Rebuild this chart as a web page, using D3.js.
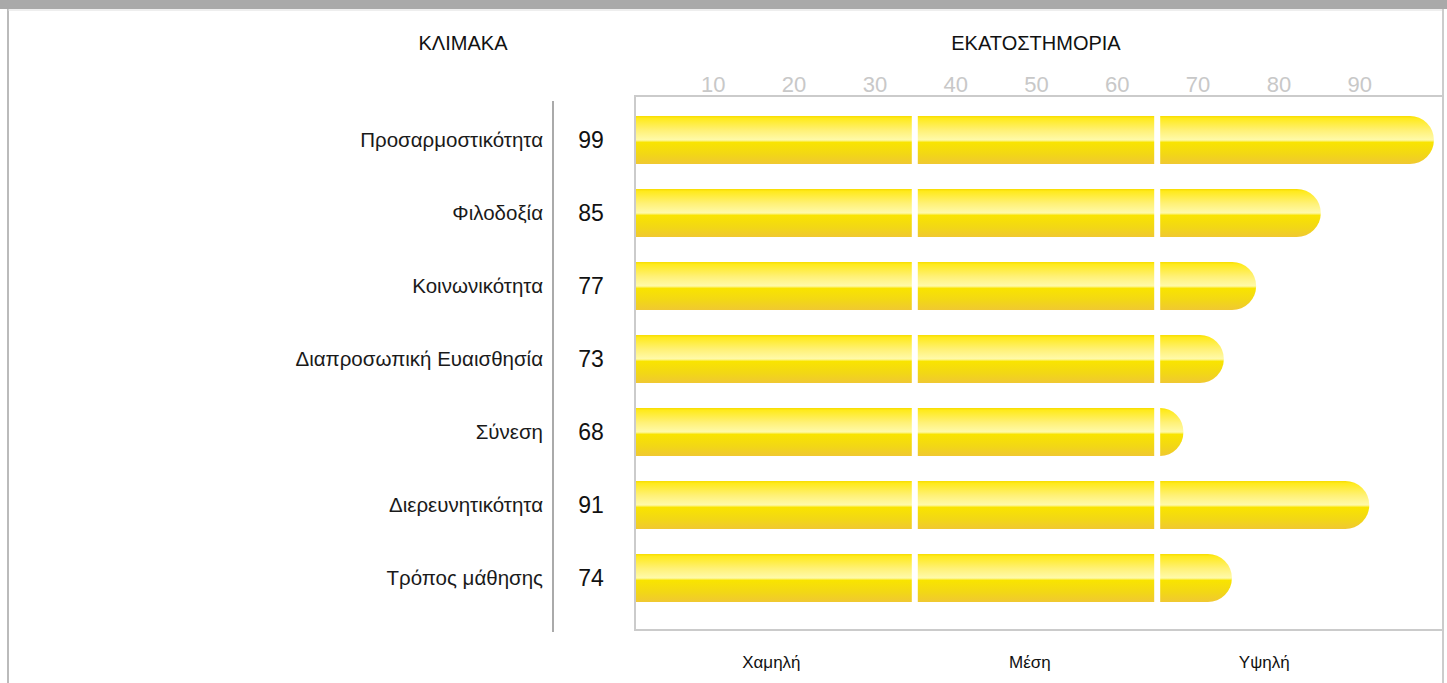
<!DOCTYPE html>
<html>
<head>
<meta charset="utf-8">
<style>
  body { margin: 0; background: #fff; }
  svg { display: block; font-family: "Liberation Sans", Arial, sans-serif; }
</style>
</head>
<body>
<svg id="chart" width="1447" height="683"></svg>
<script src="https://cdn.jsdelivr.net/npm/d3@7/dist/d3.min.js"></script>
<script>
// data
const scales = ["Προσαρμοστικότητα", "Φιλοδοξία", "Κοινωνικότητα", "Διαπροσωπική Ευαισθησία",
                "Σύνεση", "Διερευνητικότητα", "Τρόπος μάθησης"]
const percentiles = [99, 85, 77, 73, 68, 91, 74]
const tickValues = [10, 20, 30, 40, 50, 60, 70, 80, 90]
const zoneBreaks = [35, 65]
const zoneNames = ["Χαμηλή", "Μέση", "Υψηλή"]
const zoneLabelAt = [17, 49, 78]

const svg = d3.select("#chart")
const W = 1447, H = 683

// frame
svg.append("rect").attr("x", 0).attr("y", 0).attr("width", W).attr("height", 9).attr("fill", "#a9a9a9")
svg.append("line").attr("x1", 8).attr("x2", 8).attr("y1", 9).attr("y2", H)
    .attr("stroke", "#bbb").attr("stroke-width", 2)
svg.append("line").attr("x1", 8).attr("x2", W - 3).attr("y1", 10).attr("y2", 10)
    .attr("stroke", "#ddd").attr("stroke-width", 1)
svg.append("line").attr("x1", 1443).attr("x2", 1443).attr("y1", 9).attr("y2", H)
    .attr("stroke", "#ccc").attr("stroke-width", 2)

let x = d3.scaleLinear().domain([0, 100]).range([634, 1442])
let y = d3.scaleBand().domain(scales).range([103.5, 614.5]).paddingInner(0.342).paddingOuter(0.171)

// headers
svg.append("text").attr("x", 463).attr("y", 50).attr("text-anchor", "middle")
    .attr("font-size", 20).attr("fill", "#111").text("ΚΛΙΜΑΚΑ")
svg.append("text").attr("x", 1036).attr("y", 50).attr("text-anchor", "middle")
    .attr("font-size", 20).attr("fill", "#111").text("ΕΚΑΤΟΣΤΗΜΟΡΙΑ")

// percentile ticks on top
svg.append("g")
    .attr("transform", "translate(-2,92)")
    .call(d3.axisTop(x).tickValues(tickValues).tickSize(0).tickPadding(0))
    .call(g => g.select(".domain").remove())
    .call(g => g.selectAll("text").attr("font-size", 22).attr("fill", "#c8c8c8")
        .attr("font-family", "\"Liberation Sans\", Arial, sans-serif"))

// plot box
svg.append("rect").attr("x", 635).attr("y", 96).attr("width", 1443 - 635).attr("height", 630 - 96)
    .attr("fill", "none").attr("stroke", "#cbcbcb").attr("stroke-width", 2)

// separator on left
svg.append("line").attr("x1", 553).attr("x2", 553).attr("y1", 101).attr("y2", 632)
    .attr("stroke", "#aaa").attr("stroke-width", 2)

// gradient for bars
const defs = svg.append("defs")
const grad = defs.append("linearGradient").attr("id", "barGrad")
    .attr("x1", 0).attr("y1", 0).attr("x2", 0).attr("y2", 1)
const stops = [[0, "#f7dc00"], [0.05, "#ffea1c"], [0.3, "#fff176"], [0.5, "#fffaaa"],
               [0.55, "#f9e400"], [0.8, "#f2d716"], [1, "#f0c832"]]
stops.forEach(s => grad.append("stop").attr("offset", s[0]).attr("stop-color", s[1]))

// category names and values
svg.append("g").selectAll("text").data(scales).join("text")
    .attr("x", 543).attr("y", d => y(d) + y.bandwidth() / 2)
    .attr("dy", "0.35em").attr("text-anchor", "end")
    .attr("font-size", 20.5).attr("fill", "#1a1a1a").text(d => d)

svg.append("g").selectAll("text").data(percentiles).join("text")
    .attr("x", 591).attr("y", (d, i) => y(scales[i]) + y.bandwidth() / 2)
    .attr("dy", "0.36em").attr("text-anchor", "middle")
    .attr("font-size", 23).attr("fill", "#111").text(d => d)

// bars split in zones
function segPath(x0, x1, top, h, round) {
    let w = x1 - x0
    if (!round) return `M${x0},${top}h${w}v${h}h${-w}Z`
    let r = Math.min(h / 2, w)
    return `M${x0},${top}H${x1 - r}A${r},${h / 2} 0 0 1 ${x1 - r},${top + h}H${x0}Z`
}

const bars = svg.append("g")
percentiles.forEach((v, i) => {
    let top = y(scales[i]), h = y.bandwidth()
    let edges = [0, ...zoneBreaks.filter(b => b < v), v]
    for (let k = 0; k < edges.length - 1; k++) {
        let last = k === edges.length - 2
        let x0 = x(edges[k]) + (k > 0 ? 1 : 2)
        let x1 = last ? x(edges[k + 1]) : x(edges[k + 1]) - 5
        bars.append("path")
            .attr("d", segPath(x0, x1, top, h, last))
            .attr("fill", "url(#barGrad)")
    }
})

// zone labels
svg.append("g").selectAll("text").data(zoneNames).join("text")
    .attr("x", (d, i) => x(zoneLabelAt[i])).attr("y", 668)
    .attr("text-anchor", "middle").attr("font-size", 17).attr("fill", "#111").text(d => d)
</script>
</body>
</html>
